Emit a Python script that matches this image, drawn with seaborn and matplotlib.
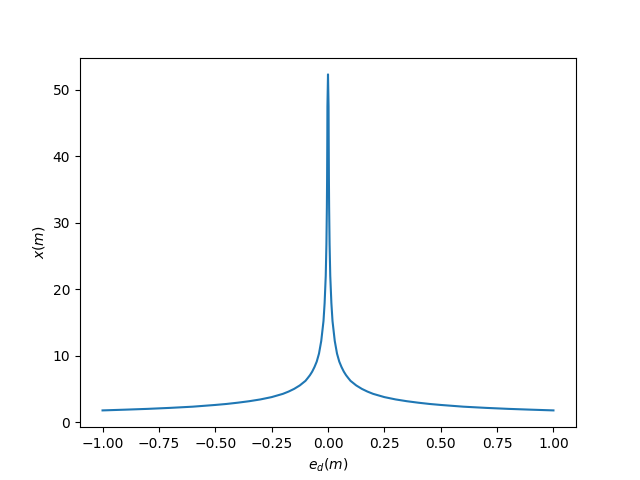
import numpy as np
import pandas as pd
import matplotlib
matplotlib.use("Agg")
import matplotlib.pyplot as plt
import seaborn as sns

# values
e_d = [-1.0, -0.9, -0.8, -0.7, -0.6, -0.5, -0.45, -0.4, -0.35, -0.3, -0.25, -0.2,
       -0.175, -0.15, -0.125, -0.11, -0.1, -0.09, -0.08, -0.07, -0.06, -0.05,
       -0.04, -0.03, -0.02, -0.015, -0.01, -0.007, -0.005, -0.004, -0.003,
       -0.0025, 0.0,
       0.0025, 0.003, 0.004, 0.005, 0.007, 0.01, 0.015, 0.02, 0.03, 0.04,
       0.05, 0.06, 0.07, 0.08, 0.09, 0.1, 0.11, 0.125, 0.15, 0.175,
       0.2, 0.25, 0.3, 0.35, 0.4, 0.45, 0.5, 0.6, 0.7, 0.8, 0.9, 1.0]
x_m = [1.76, 1.87, 1.99, 2.14, 2.32, 2.58, 2.73, 2.92, 3.14, 3.41, 3.76, 4.25,
       4.59, 5.0, 5.52, 5.93, 6.2, 6.62, 7.06, 7.6, 8.28, 9.1,
       10.3, 12.2, 15.2, 17.9, 22.0, 26.8, 32.3, 36.5, 43.0,
       47.5, 52.3,
       47.5, 43.0, 36.5, 32.3, 26.8, 22.0, 17.9, 15.2, 12.2, 10.3,
       9.1, 8.28, 7.6, 7.06, 6.62, 6.2, 5.93, 5.52, 5.0, 4.59,
       4.25, 3.76, 3.41, 3.14, 2.92, 2.73, 2.58, 2.32, 2.14, 1.99, 1.87, 1.76]

df = pd.DataFrame({"e_d": e_d, "x": x_m})

fig, ax = plt.subplots(figsize=(6.4, 4.8), dpi=100)
sns.lineplot(data=df, x="e_d", y="x", ax=ax, color="#1f77b4", linewidth=1.5)
ax.set_xlabel("$e_d(m)$")
ax.set_ylabel("$x(m)$")
fig.savefig("out.png", dpi=100)
